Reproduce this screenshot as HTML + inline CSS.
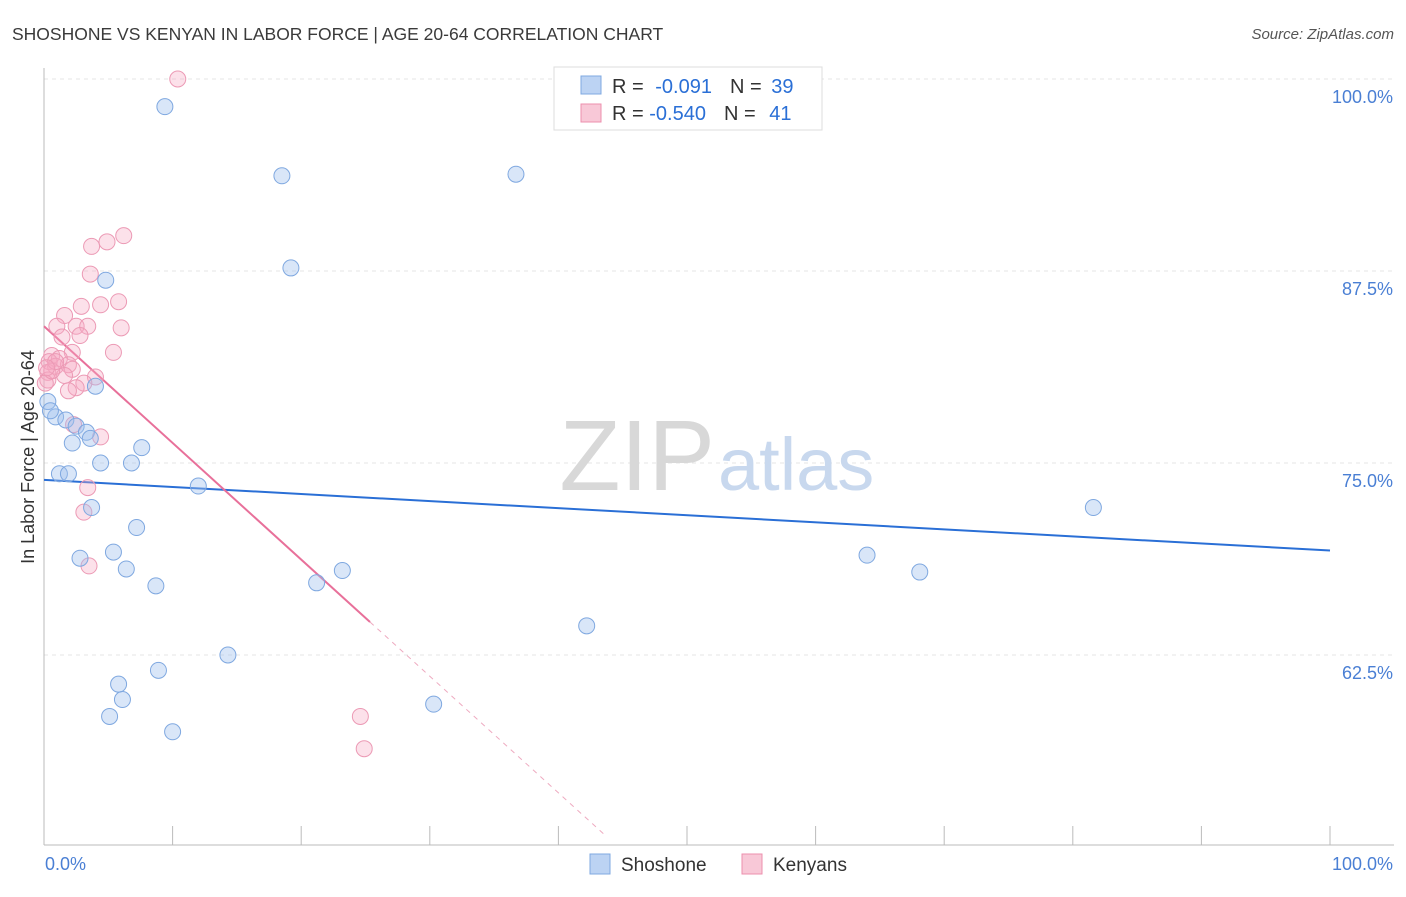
<!DOCTYPE html>
<html><head><meta charset="utf-8"><style>
body{margin:0;background:#fff;font-family:"Liberation Sans",sans-serif;}
svg text{font-family:"Liberation Sans",sans-serif;}
</style></head><body>
<svg id="chart" width="1406" height="892" viewBox="0 0 1406 892">
<text x="12" y="40" font-size="17.5" fill="#3a3a3a">SHOSHONE VS KENYAN IN LABOR FORCE | AGE 20-64 CORRELATION CHART</text>
<text x="1394" y="39" font-size="15" fill="#555" font-style="italic" text-anchor="end">Source: ZipAtlas.com</text>
<g id="grid"></g>
<text x="715" y="490" font-size="100" fill="#d8d8d8" font-family="Liberation Serif" text-anchor="end">ZIP</text>
<text x="718" y="490" font-size="74" fill="#c8d8ee">atlas</text>
<g id="axes"></g>
<g id="lines"></g>
<g id="points"></g>
<text transform="translate(34,457) rotate(-90)" font-size="18" fill="#333" text-anchor="middle">In Labor Force | Age 20-64</text>
<text x="45" y="870" font-size="18" fill="#4a7fd4">0.0%</text>
<text x="1393" y="870" font-size="18" fill="#4a7fd4" text-anchor="end">100.0%</text>
<g>
<rect x="554" y="67" width="268" height="63" fill="#fff" stroke="#ddd"/>
<rect x="581" y="76" width="20" height="18" fill="#bcd3f3" stroke="#7fa8e0"/>
<text x="612" y="93" font-size="20" fill="#333">R = <tspan dx="6" fill="#2a6fd6">-0.091</tspan><tspan dx="18">N = </tspan><tspan dx="4" fill="#2a6fd6">39</tspan></text>
<rect x="581" y="104" width="20" height="18" fill="#f8c8d7" stroke="#ec8fae"/>
<text x="612" y="120" font-size="20" fill="#333">R = <tspan fill="#2a6fd6">-0.540</tspan><tspan dx="18">N = </tspan><tspan dx="8" fill="#2a6fd6">41</tspan></text>
</g>
<g>
<rect x="590" y="854" width="20" height="20" fill="#bcd3f3" stroke="#7fa8e0"/>
<text x="621" y="871" font-size="19" fill="#333">Shoshone</text>
<rect x="742" y="854" width="20" height="20" fill="#f8c8d7" stroke="#ec8fae"/>
<text x="773" y="871" font-size="19" fill="#333">Kenyans</text>
</g>
</svg>
<script>
const yTicks=[100,87.5,75,62.5];
const yTickLabels=["100.0%","87.5%","75.0%","62.5%"];
const xTicks=[0,10,20,30,40,50,60,70,80,90,100];
const shoshoneX=[9.4,18.5,36.7,19.2,4.8,4.0,0.3,0.9,1.7,2.5,3.3,3.6,2.2,7.6,4.4,6.8,1.2,1.9,12.0,3.7,81.6,7.2,2.8,5.4,64.0,6.4,23.2,21.2,68.1,8.7,42.2,14.3,8.9,5.8,6.1,30.3,5.1,10.0,0.5];
const shoshoneY=[98.2,93.7,93.8,87.7,86.9,80.0,79.0,78.0,77.8,77.4,77.0,76.6,76.3,76.0,75.0,75.0,74.3,74.3,73.5,72.1,72.1,70.8,68.8,69.2,69.0,68.1,68.0,67.2,67.9,67.0,64.4,62.5,61.5,60.6,59.6,59.3,58.5,57.5,78.4];
const kenyansX=[10.4,6.2,4.9,3.7,3.6,5.8,4.4,2.9,1.6,1.0,2.5,3.4,6.0,1.4,2.8,5.4,2.2,0.6,1.2,0.4,1.9,0.9,2.2,0.3,1.6,4.0,0.3,3.1,2.5,1.9,0.1,4.4,2.3,3.4,3.1,3.5,24.6,24.9,0.6,0.9,0.2];
const kenyansY=[100.0,89.8,89.4,89.1,87.3,85.5,85.3,85.2,84.6,83.9,83.9,83.9,83.8,83.2,83.3,82.2,82.2,82.0,81.8,81.6,81.4,81.3,81.1,80.9,80.7,80.6,80.4,80.2,79.9,79.7,80.2,76.7,77.5,73.4,71.8,68.3,58.5,56.4,81.0,81.6,81.2];
const blueLine=[73.9,69.3];
const pinkLine=[83.9,64.65];
const pinkSolidEnd=25.35, pinkDashEnd=43.6;
const X=v=>44+v*12.86, Y=v=>79+(100-v)*15.36;
const NS="http://www.w3.org/2000/svg";
function mk(tag,attrs,parent){const e=document.createElementNS(NS,tag);for(const k in attrs)e.setAttribute(k,attrs[k]);parent.appendChild(e);return e;}
const grid=document.getElementById('grid'),axes=document.getElementById('axes'),lines=document.getElementById('lines'),pts=document.getElementById('points');
yTicks.forEach((t,i)=>{
 const l=mk('line',{x1:44,x2:1394,y1:Y(t),y2:Y(t),stroke:'#e4e4e4','stroke-dasharray':'4,4'},grid);
 
 
 const tx=mk('text',{x:1393,y:Y(t)+24,'font-size':18,fill:'#4a7fd4','text-anchor':'end'},axes);
 tx.textContent=yTickLabels[i];
 
 
});
const xa=mk('line',{x1:44,x2:1394,y1:845,y2:845,stroke:'#bbb'},axes);


const ya=mk('line',{x1:44,x2:44,y1:68,y2:845,stroke:'#bbb'},axes);


xTicks.forEach(t=>{
 const l=mk('line',{x1:X(t),x2:X(t),y1:826,y2:845,stroke:'#bbb'},axes);
 
 
});
const bl=mk('line',{x1:X(0),y1:Y(blueLine[0]),x2:X(100),y2:Y(blueLine[1]),stroke:'#2a6fd6','stroke-width':2},lines);


const pv=x=>pinkLine[0]+(pinkLine[1]-pinkLine[0])*x/pinkSolidEnd;
const pl=mk('line',{x1:X(0),y1:Y(pv(0)),x2:X(pinkSolidEnd),y2:Y(pv(pinkSolidEnd)),stroke:'#e8709a','stroke-width':2},lines);


const pd=mk('line',{x1:X(pinkSolidEnd),y1:Y(pv(pinkSolidEnd)),x2:X(pinkDashEnd),y2:Y(pv(pinkDashEnd)),stroke:'#eeaac0','stroke-width':1,'stroke-dasharray':'5,5'},lines);


kenyansX.forEach((x,i)=>{
 const c=mk('circle',{cx:X(x),cy:Y(kenyansY[i]),r:8,fill:'rgba(245,170,195,0.35)',stroke:'#ec9ab5','stroke-width':1},pts);
 
 
});
shoshoneX.forEach((x,i)=>{
 const c=mk('circle',{cx:X(x),cy:Y(shoshoneY[i]),r:8,fill:'rgba(160,192,238,0.4)',stroke:'#7fa8e0','stroke-width':1},pts);
 
 
});
</script>
</body></html>
